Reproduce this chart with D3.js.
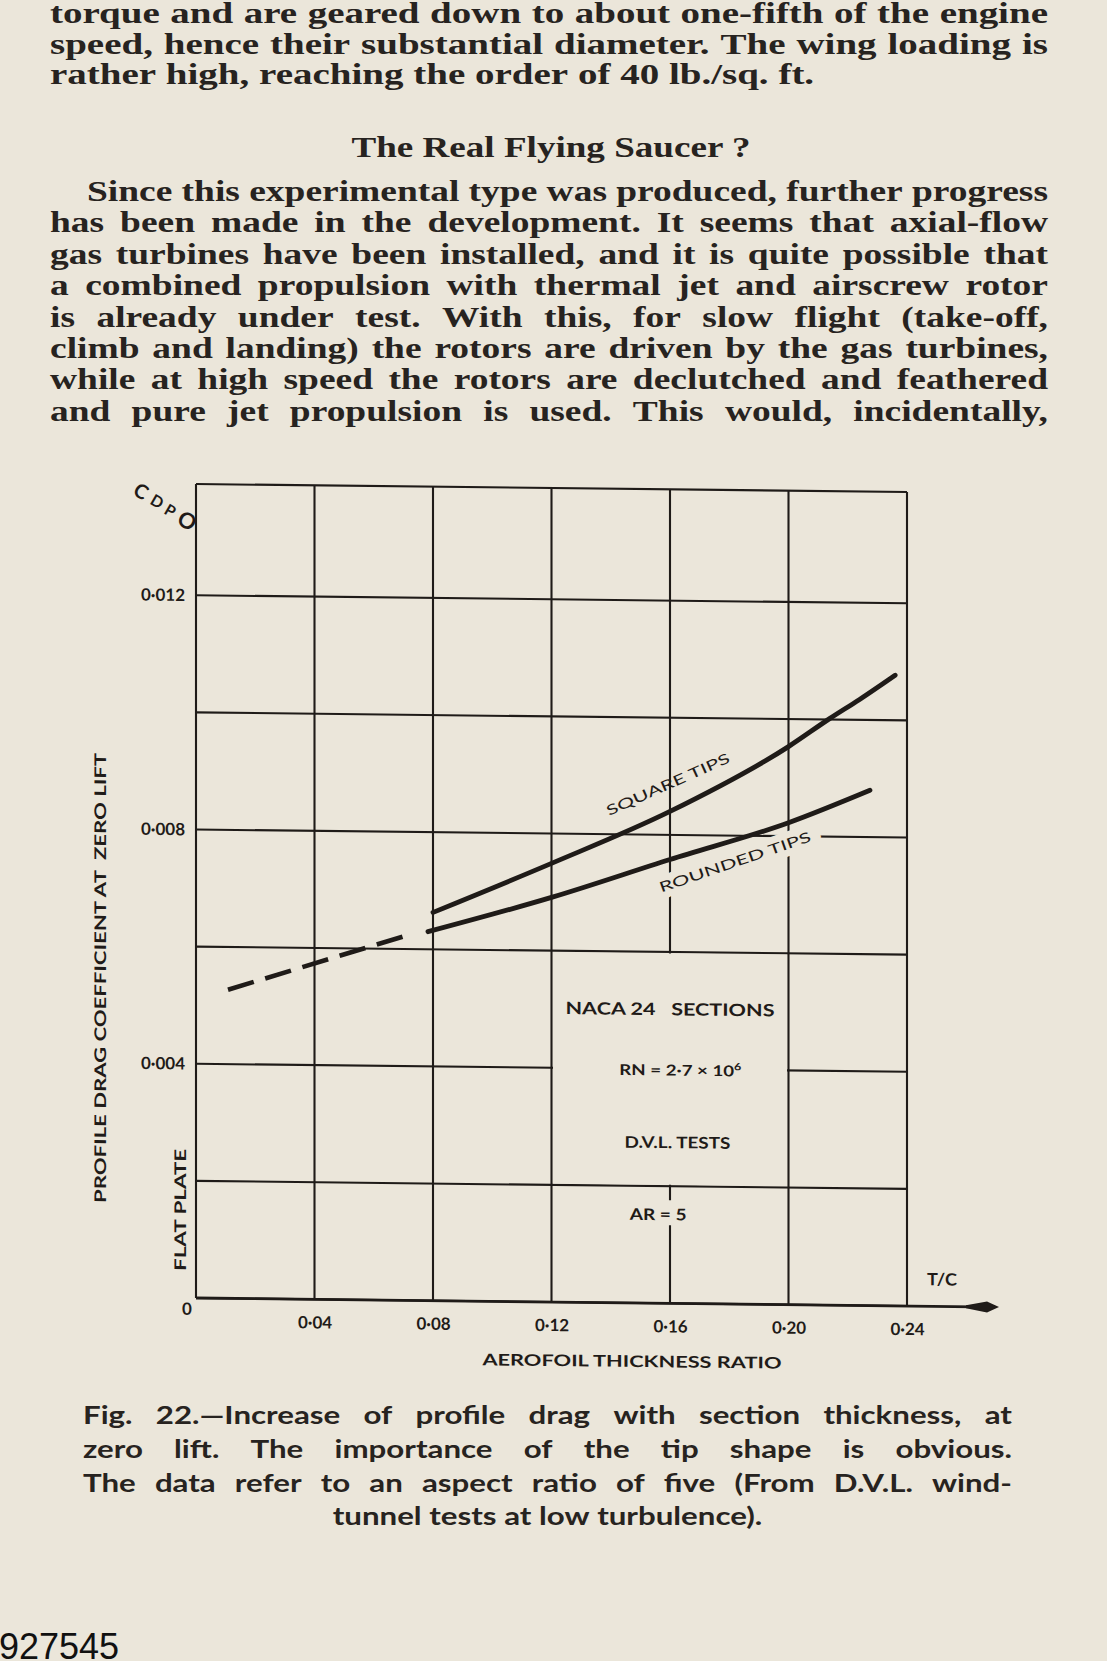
<!DOCTYPE html>
<html>
<head>
<meta charset="utf-8">
<title>Profile drag vs thickness ratio</title>
<script src="https://cdn.jsdelivr.net/npm/d3@7"></script>
<style>
  html, body { margin: 0; padding: 0; background: #ebe6da; }
  svg { display: block; }
</style>
</head>
<body>
<script>
// values (thickness ratio t/c, drag coefficient)
var squareTC  = [0.08, 0.12, 0.16, 0.20, 0.214, 0.224, 0.236];
var squareCd  = [0.00663, 0.00749, 0.0084, 0.00953, 0.01002, 0.01035, 0.01077];
var roundedTC = [0.0783, 0.12, 0.16, 0.20, 0.2275];
var roundedCd = [0.0063, 0.00691, 0.00758, 0.00823, 0.0088];
var dashedTC  = [0.0108, 0.0716];
var dashedCd  = [0.00527, 0.00624];

var xTicks = [0.04, 0.08, 0.12, 0.16, 0.20, 0.24];
var yTicks = [0.004, 0.008, 0.012];
var xGrid  = [0, 0.04, 0.08, 0.12, 0.16, 0.20, 0.24];
var yGrid  = [0, 0.002, 0.004, 0.006, 0.008, 0.010, 0.012];

var bodyLines = [
  "torque and are geared down to about one-fifth of the engine",
  "speed, hence their substantial diameter.  The wing loading is",
  "rather high, reaching the order of 40 lb./sq. ft."
];
var paraLines = [
  "Since this experimental type was produced, further progress",
  "has been made in the development.  It seems that axial-flow",
  "gas turbines have been installed, and it is quite possible that",
  "a combined propulsion with thermal jet and airscrew rotor",
  "is already under test.  With this, for slow flight (take-off,",
  "climb and landing) the rotors are driven by the gas turbines,",
  "while at high speed the rotors are declutched and feathered",
  "and pure jet propulsion is used.  This would, incidentally,"
];
var captionLines = [
  "Fig. 22.\u2014Increase of profile drag with section thickness, at",
  "zero lift.  The importance of the tip shape is obvious.",
  "The data refer to an aspect ratio of five (From D.V.L. wind-",
  "tunnel tests at low turbulence)."
];

var W = 1107, H = 1661;
var bg = "#ebe6da", ink = "#1f1b18", textInk = "#272320";
var chartFont = "Lato, 'Open Sans', sans-serif";
var serif = "'Liberation Serif', 'DejaVu Serif', serif";

var svg = d3.select("body").append("svg").attr("width", W).attr("height", H);
svg.append("rect").attr("width", W).attr("height", H).attr("fill", bg);

// ---------- page text ----------
function measure(txt, o) {
  var t = svg.append("text")
    .attr("font-family", o.family).attr("font-size", o.size).attr("font-weight", o.weight)
    .text(txt);
  var w = t.node().getComputedTextLength();
  t.remove();
  return w;
}

function drawBlock(lines, o) {
  var space = measure("a a", o) - measure("aa", o);
  var sx = d3.min(lines, function(s, i) {
    if (o.align[i] !== "j") return Infinity;
    return (o.right - o.left - o.indent[i]) / measure(s.replace(/\s+/g, " "), o);
  });
  sx = Math.min(sx, o.maxSx);
  lines.forEach(function(s, i) {
    var words = s.split(/\s+/);
    var ww = words.map(function(w) { return measure(w, o); });
    var avail = (o.right - o.left - o.indent[i]) / sx;
    var gap = o.align[i] === "j" ? (avail - d3.sum(ww)) / (words.length - 1) : space;
    var start = 0;
    if (o.align[i] === "c") start = (avail - d3.sum(ww) - gap * (words.length - 1)) / 2;
    var g = svg.append("g")
      .attr("transform", "translate(" + (o.left + o.indent[i]) + "," + o.base[i] + ") scale(" + sx + ",1)")
      .attr("font-family", o.family).attr("font-size", o.size).attr("font-weight", o.weight)
      .attr("fill", textInk);
    var xx = start;
    words.forEach(function(w, k) {
      g.append("text").attr("x", xx).attr("y", 0).text(w);
      xx += ww[k] + gap;
    });
  });
}

drawBlock(bodyLines, {
  family: serif, size: 30, weight: 700, left: 50, right: 1048, maxSx: 1.3,
  base: [23, 54, 84], indent: [0, 0, 0], align: ["j", "j", "l"]
});

svg.append("text")
  .attr("x", 551).attr("y", 157)
  .attr("text-anchor", "middle")
  .attr("font-family", serif).attr("font-size", 29).attr("font-weight", 700)
  .attr("textLength", 399).attr("lengthAdjust", "spacingAndGlyphs")
  .attr("fill", textInk)
  .text("The Real Flying Saucer ?");

drawBlock(paraLines, {
  family: serif, size: 30, weight: 700, left: 50, right: 1048, maxSx: 1.3,
  base: d3.range(8).map(function(i) { return 201 + i * 31.4; }),
  indent: [37, 0, 0, 0, 0, 0, 0, 0], align: ["j", "j", "j", "j", "j", "j", "j", "j"]
});

drawBlock(captionLines, {
  family: chartFont, size: 25, weight: 700, left: 83, right: 1012, maxSx: 1.25,
  base: [1424, 1458, 1492, 1525], indent: [0, 0, 0, 0], align: ["j", "j", "j", "c"]
});

svg.append("text")
  .attr("x", -1).attr("y", 1659)
  .attr("font-family", "'Liberation Sans', Arial, sans-serif").attr("font-size", 36)
  .attr("fill", "#111")
  .text("927545");

// ---------- chart ----------
var x = d3.scaleLinear().domain([0, 0.24]).range([196, 907]);
var y = d3.scaleLinear().domain([0, 0.0139]).range([1298, 484]);

// the scan is slightly sheared: horizontals drop ~8px across the plot
var shear = 0.0113;
var chart = svg.append("g")
  .attr("transform", "translate(0," + (-x(0) * shear) + ") skewY(" + (Math.atan(shear) * 180 / Math.PI) + ")");

var grid = chart.append("g").attr("stroke", ink).attr("stroke-width", 2.1).attr("fill", "none");
grid.selectAll(".v").data(xGrid).join("line")
  .attr("x1", function(d) { return x(d); }).attr("x2", function(d) { return x(d); })
  .attr("y1", y(0)).attr("y2", y.range()[1]);
grid.selectAll(".h").data(yGrid.concat([y.domain()[1]])).join("line")
  .attr("x1", x(0)).attr("x2", x(0.24))
  .attr("y1", function(d) { return y(d); }).attr("y2", function(d) { return y(d); });

// blank panel behind the test-condition notes
chart.append("rect")
  .attr("x", x(0.12) + 1.5).attr("width", x(0.20) - x(0.12) - 3)
  .attr("y", y(0.006) + 1.5).attr("height", y(0.002) - y(0.006) - 3)
  .attr("fill", bg);

// x axis line with arrow
chart.append("line")
  .attr("x1", x(0)).attr("x2", 975).attr("y1", y(0)).attr("y2", y(0))
  .attr("stroke", ink).attr("stroke-width", 2.8);
chart.append("path")
  .attr("transform", "translate(0," + y(0) + ")")
  .attr("d", "M966,-1.5 L987,-5.5 L999,0 L987,5.5 L966,1.5 Z")
  .attr("fill", ink);

function fmt(p) {
  return function(d) { return d3.format("." + p + "f")(d).replace(".", "\u00b7"); };
}

var xAxis = d3.axisBottom(x).tickValues(xTicks).tickSize(0).tickPadding(17).tickFormat(fmt(2));
chart.append("g")
  .attr("transform", "translate(0," + y(0) + ")")
  .call(xAxis)
  .call(function(g) { g.select(".domain").remove(); })
  .attr("font-family", chartFont).attr("font-size", 17).attr("font-weight", 700)
  .selectAll("text").attr("fill", ink);

var yAxis = d3.axisLeft(y).tickValues(yTicks).tickSize(0).tickPadding(11).tickFormat(fmt(3));
chart.append("g")
  .attr("transform", "translate(" + x(0) + ",0)")
  .call(yAxis)
  .call(function(g) { g.select(".domain").remove(); })
  .attr("font-family", chartFont).attr("font-size", 17).attr("font-weight", 700)
  .selectAll("text").attr("fill", ink);

var labels = chart.append("g")
  .attr("font-family", chartFont).attr("font-weight", 700).attr("fill", ink);

labels.append("text")
  .attr("x", x(0) - 9).attr("y", y(0) + 17)
  .attr("text-anchor", "middle").attr("font-size", 17)
  .text("0");

labels.append("text")
  .attr("x", 942).attr("y", 1277)
  .attr("text-anchor", "middle").attr("font-size", 17)
  .attr("textLength", 30).attr("lengthAdjust", "spacingAndGlyphs")
  .text("T/C");

labels.append("text")
  .attr("x", 632).attr("y", 1362)
  .attr("text-anchor", "middle").attr("font-size", 16)
  .attr("textLength", 299).attr("lengthAdjust", "spacingAndGlyphs")
  .text("AEROFOIL THICKNESS RATIO");

labels.append("text")
  .attr("transform", "translate(106,979) rotate(-90)")
  .attr("text-anchor", "middle").attr("font-size", 16)
  .attr("textLength", 450).attr("lengthAdjust", "spacingAndGlyphs")
  .text("PROFILE DRAG COEFFICIENT AT\u00a0\u00a0ZERO LIFT");

labels.append("text")
  .attr("transform", "translate(186,1210) rotate(-90)")
  .attr("text-anchor", "middle").attr("font-size", 16)
  .attr("textLength", 122).attr("lengthAdjust", "spacingAndGlyphs")
  .text("FLAT PLATE");

// C_D_PO symbol at the top of the y axis
var sym = [["C", 141, 492, 20], ["D", 157, 502, 16], ["P", 170, 511, 16], ["O", 187, 521, 22]];
labels.selectAll(".sym").data(sym).join("text")
  .attr("transform", function(d) { return "translate(" + d[1] + "," + d[2] + ") rotate(30)"; })
  .attr("text-anchor", "middle").attr("dy", "0.35em")
  .attr("font-size", function(d) { return d[3]; }).attr("font-weight", 700)
  .text(function(d) { return d[0]; });

// notes in the blank panel
labels.append("text")
  .attr("x", x(0.16)).attr("y", y(0.00492))
  .attr("text-anchor", "middle").attr("font-size", 17)
  .attr("textLength", 209).attr("lengthAdjust", "spacingAndGlyphs")
  .text("NACA 24\u00a0\u00a0\u00a0SECTIONS");

var rn = labels.append("text")
  .attr("x", x(0.1635)).attr("y", y(0.00389))
  .attr("text-anchor", "middle").attr("font-size", 15)
  .attr("textLength", 122).attr("lengthAdjust", "spacingAndGlyphs")
  .text("RN = 2\u00b77 \u00d7 10");
rn.append("tspan").attr("font-size", 10).attr("dy", -6).text("6");

labels.append("text")
  .attr("x", x(0.1625)).attr("y", y(0.00265))
  .attr("text-anchor", "middle").attr("font-size", 16)
  .attr("textLength", 106).attr("lengthAdjust", "spacingAndGlyphs")
  .text("D.V.L. TESTS");

var ar = labels.append("text")
  .attr("x", x(0.156)).attr("y", y(0.00142))
  .attr("text-anchor", "middle").attr("font-size", 16)
  .attr("textLength", 57).attr("lengthAdjust", "spacingAndGlyphs")
  .text("AR = 5");
var bb = ar.node().getBBox();
labels.insert("rect", "text")
  .attr("x", x(0.16) - 3).attr("width", 6)
  .attr("y", y(0.002) + 14).attr("height", bb.y + bb.height + 2 - (y(0.002) + 14))
  .attr("fill", bg);

// curve labels
labels.append("text")
  .attr("transform", "translate(668,779) rotate(-24.5)")
  .attr("text-anchor", "middle").attr("dy", "0.35em").attr("font-size", 14).attr("font-weight", 400)
  .attr("textLength", 134).attr("lengthAdjust", "spacingAndGlyphs")
  .text("SQUARE TIPS");

labels.append("text")
  .attr("transform", "translate(735,856) rotate(-19.5)")
  .attr("text-anchor", "middle").attr("dy", "0.35em").attr("font-size", 14).attr("font-weight", 400)
  .attr("textLength", 160).attr("lengthAdjust", "spacingAndGlyphs")
  .attr("stroke", bg).attr("stroke-width", 14).attr("paint-order", "stroke")
  .attr("stroke-linejoin", "round")
  .text("ROUNDED TIPS");

// curves
var line = d3.line()
  .x(function(d) { return x(d[0]); })
  .y(function(d) { return y(d[1]); })
  .curve(d3.curveMonotoneX);

chart.append("path")
  .datum(d3.zip(squareTC, squareCd))
  .attr("d", line)
  .attr("fill", "none").attr("stroke", ink).attr("stroke-width", 4.8).attr("stroke-linecap", "round");

chart.append("path")
  .datum(d3.zip(roundedTC, roundedCd))
  .attr("d", line)
  .attr("fill", "none").attr("stroke", ink).attr("stroke-width", 4.8).attr("stroke-linecap", "round");

chart.append("path")
  .datum(d3.zip(dashedTC, dashedCd))
  .attr("d", d3.line().x(function(d) { return x(d[0]); }).y(function(d) { return y(d[1]); }))
  .attr("fill", "none").attr("stroke", ink).attr("stroke-width", 4.6)
  .attr("stroke-dasharray", "27,12");
</script>
</body>
</html>
